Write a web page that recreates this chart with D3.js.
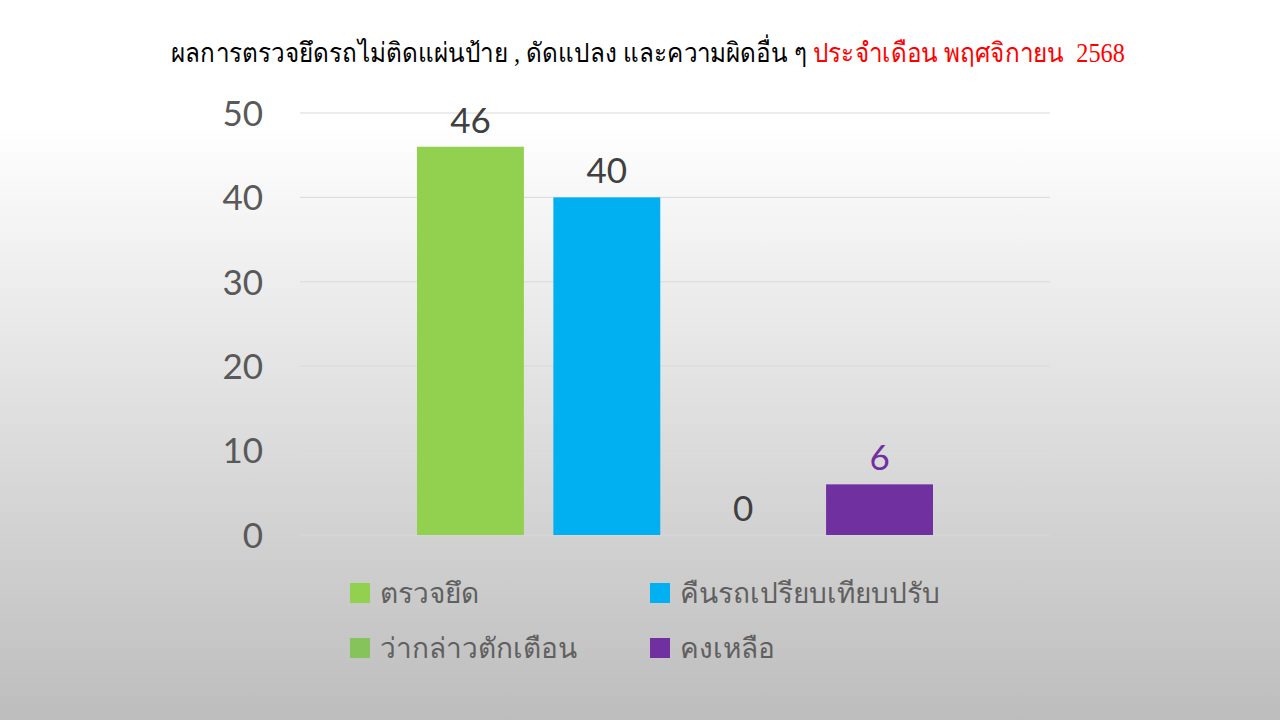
<!DOCTYPE html>
<html><head><meta charset="utf-8">
<script src="https://cdn.jsdelivr.net/npm/d3@7"></script>
<style>html,body{margin:0;padding:0;}svg{display:block;}</style>
</head><body>
<svg id="c" width="1280" height="720"></svg>
<script>
const titleBlack = "ผลการตรวจยึดรถไม่ติดแผ่นป้าย , ดัดแปลง และความผิดอื่น ๆ ";
const titleRed = "ประจำเดือน พฤศจิกายน\u00a0\u00a02568";
const seriesNames = ["ตรวจยึด", "คืนรถเปรียบเทียบปรับ", "ว่ากล่าวตักเตือน", "คงเหลือ"];
const seriesValues = [46, 40, 0, 6];
const seriesColors = ["#92d050", "#00b0f0", "#86c35a", "#7030a0"];
const labelColors = ["#404040", "#404040", "#404040", "#7030a0"];
const yTicks = [0, 10, 20, 30, 40, 50];

const svg = d3.select("#c");
const defs = svg.append("defs");
const g = defs.append("linearGradient").attr("id","bg").attr("x1",0).attr("y1",0).attr("x2",0).attr("y2",1);
g.append("stop").attr("offset","0").attr("stop-color","#ffffff");
g.append("stop").attr("offset","0.17").attr("stop-color","#ffffff");
g.append("stop").attr("offset","1").attr("stop-color","#bdbdbd");
svg.append("rect").attr("width",1280).attr("height",720).attr("fill","url(#bg)");

const y = d3.scaleLinear().domain([0,50]).range([535,113]);
const x = d3.scaleBand().domain(seriesNames).range([417,933]).paddingInner(0.216).paddingOuter(0);

// gridlines
svg.append("g").selectAll("line").data(yTicks).join("line")
  .attr("x1",300).attr("x2",1050).attr("y1",d=>y(d)).attr("y2",d=>y(d))
  .attr("stroke","#d9d9d9").attr("stroke-width",1);

// y axis labels
const axis = d3.axisLeft(y).tickValues(yTicks).tickSize(0).tickPadding(0);
const ag = svg.append("g").attr("transform","translate(263,0)").call(axis);
ag.select(".domain").remove();
ag.selectAll("text").attr("font-family","'Lato','Open Sans',sans-serif").attr("font-size",35)
  .attr("fill","#595959").attr("dy","0.35em");

// bars
svg.append("g").selectAll("rect").data(seriesNames).join("rect")
  .attr("x",d=>x(d)).attr("width",x.bandwidth())
  .attr("y",(d,i)=>y(seriesValues[i])).attr("height",(d,i)=>y(0)-y(seriesValues[i]))
  .attr("fill",(d,i)=>seriesColors[i]);

// data labels
svg.append("g").selectAll("text").data(seriesNames).join("text")
  .attr("x",d=>x(d)+x.bandwidth()/2).attr("y",(d,i)=>y(seriesValues[i])-14)
  .attr("text-anchor","middle").attr("font-family","'Lato','Open Sans',sans-serif")
  .attr("font-size",35).attr("fill",(d,i)=>labelColors[i])
  .text((d,i)=>seriesValues[i]);

// title
const t = svg.append("text").attr("transform","translate(648,62) scale(0.9,1)").attr("text-anchor","middle")
  .attr("font-family","'Liberation Serif','DejaVu Serif',serif").attr("font-size",27).attr("font-weight","normal");
t.append("tspan").attr("fill","#000").text(titleBlack);
t.append("tspan").attr("fill","#ff0000").text(titleRed);

// legend
const legPos = [[350,593],[650,593],[350,648],[650,648]];
const lg = svg.append("g").selectAll("g").data(seriesNames).join("g")
  .attr("transform",(d,i)=>`translate(${legPos[i][0]},${legPos[i][1]})`);
lg.append("rect").attr("x",0).attr("y",-10).attr("width",20).attr("height",20).attr("fill",(d,i)=>seriesColors[i]);
lg.append("text").attr("x",30).attr("y",0).attr("dy","0.35em")
  .attr("font-family","'Lato','Open Sans',sans-serif").attr("font-size",28).attr("font-weight",300).attr("fill","#606060")
  .text(d=>d);
</script>
</body></html>
